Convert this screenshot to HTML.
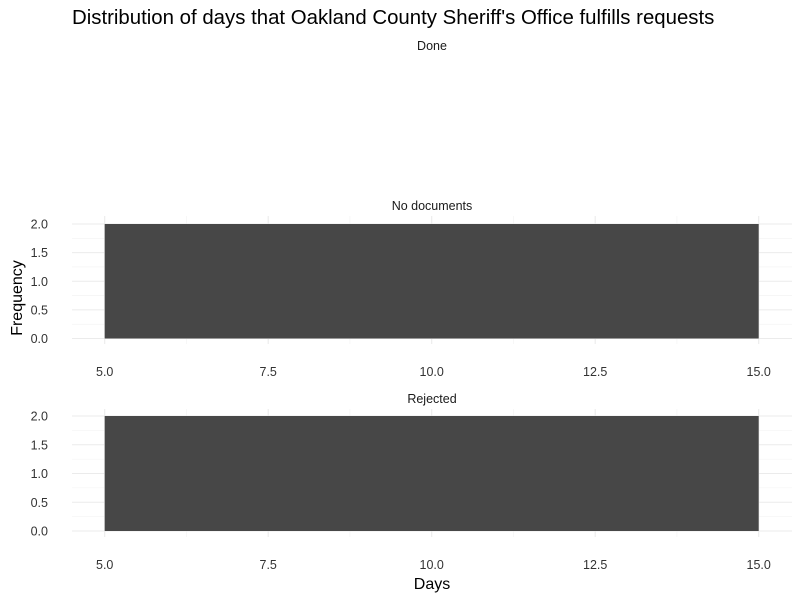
<!DOCTYPE html>
<html><head><meta charset="utf-8"><style>
body{margin:0;background:#fff;font-family:"Liberation Sans",sans-serif}
text{font-family:"Liberation Sans",sans-serif}
</style></head><body>
<svg id="chart" width="800" height="600" xmlns="http://www.w3.org/2000/svg">
<text x="72" y="24" font-size="20.4" fill="#000">Distribution of days that Oakland County Sheriff's Office fulfills requests</text>
<text x="22" y="298" font-size="16" fill="#000" text-anchor="middle" transform="rotate(-90 22 298)">Frequency</text>
<text x="432" y="589" font-size="16" fill="#000" text-anchor="middle">Days</text>
<g id="panels"></g>
</svg>
<script>
const facets = ["Done", "No documents", "Rejected"];
const binStarts = [[], [5], [5]];
const binEnds = [[], [15], [15]];
const binCounts = [[], [2], [2]];
const xTicks = [5, 7.5, 10, 12.5, 15];
const xTickLabels = ["5.0", "7.5", "10.0", "12.5", "15.0"];
const yTicks = [0, 0.5, 1, 1.5, 2];
const yTickLabels = ["0.0", "0.5", "1.0", "1.5", "2.0"];

const NS = "http://www.w3.org/2000/svg";
const g = document.getElementById("panels");
const px0 = 72, px1 = 792;
const xScale = v => 104.7 + (v - 5) * (758.7 - 104.7) / 10;
const panelY = [{top:55, y2:null}, {top:216, y2:224, y0:338.5, bottom:344, label:206, tl:376}, {top:409, y2:416, y0:531, bottom:537, label:399, tl:569}];
function mk(tag, attrs, parent){const e=document.createElementNS(NS,tag);for(const k in attrs)e.setAttribute(k,attrs[k]);(parent||g).appendChild(e);return e;}
facets.forEach((f, i) => {
  const p = panelY[i];
  const lab = mk("text", {x:432, y: i===0?50:p.label+4, "font-size":12.5, "text-anchor":"middle", fill:"#1a1a1a"});
  lab.textContent = f;
  
  
  if (i === 0) return;
  const yScale = v => p.y0 + (p.y2 - p.y0) * v / 2;
  for (let k = 0; k < yTicks.length - 1; k++) {
    const v = (yTicks[k] + yTicks[k+1]) / 2;
    const l = mk("line", {x1:px0, x2:px1, y1:yScale(v), y2:yScale(v), stroke:"#f2f2f2", "stroke-width":0.6});
    
    
  }
  for (let k = 0; k < xTicks.length - 1; k++) {
    const v = (xTicks[k] + xTicks[k+1]) / 2;
    const l = mk("line", {x1:xScale(v), x2:xScale(v), y1:p.top, y2:p.bottom, stroke:"#f2f2f2", "stroke-width":0.6});
    
    
  }
  yTicks.forEach((v, k) => {
    const l = mk("line", {x1:px0, x2:px1, y1:yScale(v), y2:yScale(v), stroke:"#ebebeb", "stroke-width":1.1});
    
    
    const t = mk("text", {x:48, y:yScale(v)+4.5, "font-size":12.5, "text-anchor":"end", fill:"#333"});
    t.textContent = yTickLabels[k];
    
    
  });
  xTicks.forEach((v, k) => {
    const l = mk("line", {x1:xScale(v), x2:xScale(v), y1:p.top, y2:p.bottom, stroke:"#ebebeb", "stroke-width":1.1});
    
    
    const t = mk("text", {x:xScale(v), y:p.tl, "font-size":12.5, "text-anchor":"middle", fill:"#333"});
    t.textContent = xTickLabels[k];
    
    
  });
  binStarts[i].forEach((s, k) => {
    const x0 = xScale(s), x1 = xScale(binEnds[i][k]);
    const r = mk("rect", {x:x0, y:yScale(binCounts[i][k]), width:x1-x0, height:yScale(0)-yScale(binCounts[i][k]), fill:"#474747"});
    
    
  });
});
</script>
</body></html>
